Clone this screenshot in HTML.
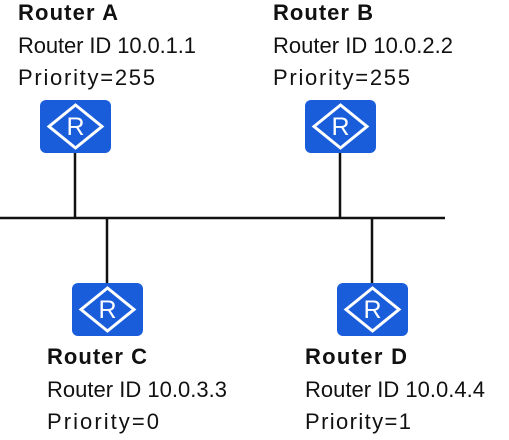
<!DOCTYPE html>
<html><head><meta charset="utf-8"><style>
body{margin:0;background:#fff;}
svg text{font-family:"Liberation Sans",sans-serif;font-size:22px;fill:#111;}
</style></head><body>
<svg width="509" height="435" viewBox="0 0 509 435" xmlns="http://www.w3.org/2000/svg">
<defs>
<g id="r">
<rect x="0" y="0" width="71" height="53" rx="6" fill="#1a5ddb"/>
<polygon points="35.5,5 62,26.5 35.5,48 9,26.5" fill="none" stroke="#fff" stroke-width="3"/>
<text x="35.5" y="35" text-anchor="middle" style="font-size:25px;fill:#fff">R</text>
</g>
</defs>
<g stroke="#111" stroke-width="2.5">
<line x1="0" y1="218" x2="445" y2="218"/>
<line x1="75" y1="153" x2="75" y2="218"/>
<line x1="340" y1="153" x2="340" y2="218"/>
<line x1="107" y1="218" x2="107" y2="283"/>
<line x1="372" y1="218" x2="372" y2="283"/>
</g>
<use href="#r" x="40" y="100"/>
<use href="#r" x="305" y="100"/>
<use href="#r" x="72" y="283"/>
<use href="#r" x="337" y="283"/>
<text x="18" y="20" font-weight="bold" textLength="100">Router A</text>
<text x="18" y="53" textLength="178">Router ID 10.0.1.1</text>
<text x="18" y="85" textLength="137">Priority=255</text>
<text x="273" y="20" font-weight="bold" textLength="100">Router B</text>
<text x="273" y="53" textLength="180">Router ID 10.0.2.2</text>
<text x="273" y="85" textLength="137">Priority=255</text>
<text x="47" y="364" font-weight="bold" textLength="100">Router C</text>
<text x="47" y="397" textLength="180">Router ID 10.0.3.3</text>
<text x="47" y="429" textLength="112">Priority=0</text>
<text x="305" y="364" font-weight="bold" textLength="102">Router D</text>
<text x="305" y="397" textLength="180">Router ID 10.0.4.4</text>
<text x="305" y="429" textLength="106">Priority=1</text>
</svg>
</body></html>
